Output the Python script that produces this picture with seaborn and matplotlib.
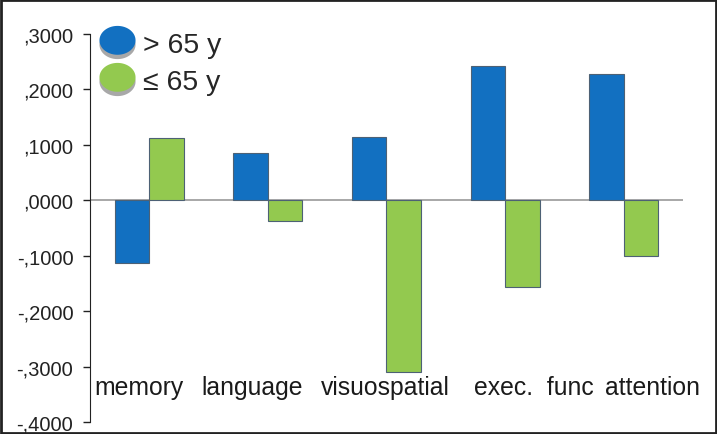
import numpy as np
import pandas as pd
import seaborn as sns
import matplotlib.pyplot as plt
from matplotlib.lines import Line2D
from matplotlib.patches import Rectangle
from matplotlib.path import Path
from matplotlib.legend_handler import HandlerTuple
from matplotlib.ticker import FuncFormatter

# values
domains = ['memory', 'language', 'visuospatial', 'exec.  func', 'attention']
older = [-0.114, 0.085, 0.115, 0.242, 0.227]     # > 65 y
younger = [0.112, -0.038, -0.309, -0.157, -0.101]  # <= 65 y
groups = ['> 65 y', '\u2264 65 y']
label_pos = [-0.09, 0.87, 1.99, 3.24, 4.24]

df = pd.DataFrame({
    'domain': domains * 2,
    'value': older + younger,
    'group': [groups[0]] * len(domains) + [groups[1]] * len(domains),
})

sns.set_style('white')
plt.rcParams['font.family'] = ['Liberation Sans', 'DejaVu Sans']

blue = '#1270c1'
green = '#93c94f'

fig = plt.figure(figsize=(7.17, 4.35), dpi=100)
ax = fig.add_axes([0.1255, 0.0276, 0.8271, 0.8919])

sns.barplot(data=df, x='domain', y='value', hue='group', palette=[blue, green],
            width=0.58, gap=0, ax=ax, legend=False, saturation=1,
            edgecolor='#4d6175', linewidth=0.8)

ax.set_ylim(-0.4, 0.3)
ax.set_xlim(-0.5, 4.5)
ax.set_yticks([0.3, 0.2, 0.1, 0.0, -0.1, -0.2, -0.3, -0.4])
ax.yaxis.set_major_formatter(FuncFormatter(lambda v, p: f'{v:.4f}'.replace('0.', ',')))
ax.tick_params(axis='y', left=True, length=5, width=1, labelsize=14.5, pad=7, colors='#222222')
ax.set_xticks([])
ax.set_xlabel('')
ax.set_ylabel('')
for s in ['top', 'right', 'bottom']:
    ax.spines[s].set_visible(False)
ax.spines['left'].set_color('#222222')
ax.axhline(0, color='#9a9a9a', lw=1.2, zorder=0.5)

for x, name in zip(label_pos, domains):
    ax.text(x, -0.337, name, ha='center', va='center', fontsize=17.8, color='#1a1a1a')

# ellipse markers with a grey shadow underneath
t = np.linspace(0, 2 * np.pi, 60)
top = Path(np.column_stack([np.cos(t), 0.8 * np.sin(t) + 0.12]))
shadow = Path(np.column_stack([np.cos(t), 0.8 * np.sin(t) - 0.12]))
handles = []
for c in [blue, green]:
    sh = Line2D([0], [0], marker=shadow, color='w', markerfacecolor='#a8a8a8',
                markeredgewidth=0, markersize=26, linestyle='')
    fg = Line2D([0], [0], marker=top, color='w', markerfacecolor=c,
                markeredgewidth=0, markersize=26, linestyle='')
    handles.append((sh, fg))
ax.legend(handles, groups, loc='upper left', bbox_to_anchor=(-0.012, 1.05), frameon=False,
          fontsize=20.5, handletextpad=0.3, labelspacing=0.38, borderaxespad=0.2, handlelength=1.2,
          handler_map={tuple: HandlerTuple(ndivide=1, pad=0)})

fig.patches.append(Rectangle((0.002, 0.003), 0.996, 0.994, transform=fig.transFigure,
                             fill=False, edgecolor='#222222', lw=2))

plt.savefig('out.png', dpi=100)
